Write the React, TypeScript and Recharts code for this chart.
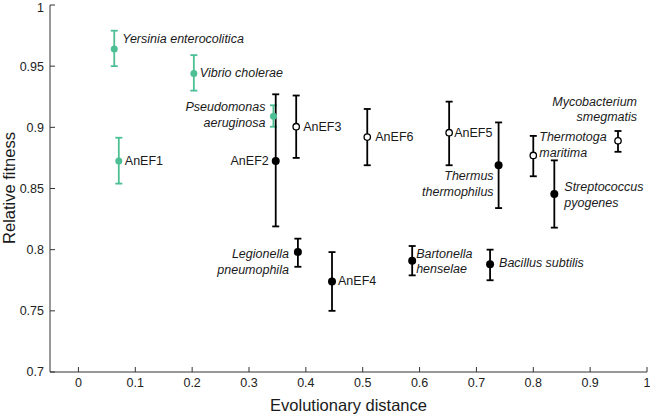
import React from 'react';
import { ScatterChart, Scatter, XAxis, YAxis, ErrorBar } from 'recharts';

// names as drawn, lines split by '\n'
const names = [
  'Yersinia enterocolitica', 'Vibrio cholerae', 'Pseudomonas\naeruginosa', 'AnEF1',
  'AnEF2', 'AnEF3', 'AnEF6', 'AnEF5', 'Thermus\nthermophilus', 'Thermotoga\nmaritima',
  'Mycobacterium\nsmegmatis', 'Streptococcus\npyogenes', 'Legionella\npneumophila',
  'AnEF4', 'Bartonella\nhenselae', 'Bacillus subtilis',
];
const distance = [0.063, 0.203, 0.343, 0.071, 0.347, 0.383, 0.508, 0.652, 0.739, 0.800, 0.949, 0.837, 0.386, 0.446, 0.587, 0.724];
const fitness = [0.964, 0.944, 0.909, 0.8725, 0.8725, 0.9005, 0.892, 0.8956, 0.869, 0.877, 0.889, 0.8455, 0.798, 0.774, 0.791, 0.788];
const errLow = [0.950, 0.930, 0.9005, 0.854, 0.819, 0.875, 0.869, 0.869, 0.834, 0.860, 0.880, 0.818, 0.786, 0.750, 0.779, 0.775];
const errHigh = [0.979, 0.959, 0.918, 0.8915, 0.927, 0.926, 0.915, 0.921, 0.904, 0.893, 0.897, 0.873, 0.809, 0.798, 0.803, 0.800];
// 'g' = green filled, 'f' = black filled, 'o' = black open
const group = ['g', 'g', 'g', 'g', 'f', 'o', 'o', 'o', 'f', 'o', 'o', 'f', 'f', 'f', 'f', 'f'];

const xTicks = [0, 0.1, 0.2, 0.3, 0.4, 0.5, 0.6, 0.7, 0.8, 0.9, 1];
const yTicks = [0.7, 0.75, 0.8, 0.85, 0.9, 0.95, 1];

// label placement: [dx, dy of first line, anchor]
const labelPos: [number, number, 'start' | 'end'][] = [
  [8, -10, 'start'], [6, -1, 'start'], [-8, -9, 'end'], [6, 0, 'start'],
  [-7, 0, 'end'], [7, 0, 'start'], [8, 0, 'start'], [5, 0, 'start'],
  [-5, 11, 'end'], [6, -18, 'start'], [19, -39, 'end'], [10, -7, 'start'],
  [-9, 2, 'end'], [6, 0, 'start'], [4, -7, 'start'], [9, -1, 'start'],
];

const GREEN = '#4cbf95';
const FONT = 'Liberation Sans, Arial, sans-serif';

const rows = names.map((name, i) => ({
  name,
  x: distance[i],
  y: fitness[i],
  err: [fitness[i] - errLow[i], errHigh[i] - fitness[i]],
  idx: i,
}));

const green = rows.filter((r) => group[r.idx] === 'g');
const filled = rows.filter((r) => group[r.idx] === 'f');
const open = rows.filter((r) => group[r.idx] === 'o');

const makeShape = (kind: string) => (props: any) => {
  const { cx, cy, payload } = props;
  const [dx, dy, anchor] = labelPos[payload.idx];
  const lines = String(payload.name).split('\n');
  const italic = !payload.name.startsWith('AnEF');
  return (
    <g>
      {kind === 'o' ? (
        <circle cx={cx} cy={cy} r={3.2} fill="#fff" stroke="#000" strokeWidth={1.3} />
      ) : (
        <circle cx={cx} cy={cy} r={kind === 'g' ? 3.5 : 4} fill={kind === 'g' ? GREEN : '#000'} />
      )}
      <text
        x={cx + dx}
        y={cy + dy}
        textAnchor={anchor}
        dominantBaseline="central"
        fontSize={12.5}
        fontFamily={FONT}
        fontStyle={italic ? 'italic' : 'normal'}
        fill="#1a1a1a"
      >
        {lines.map((l, j) => (
          <tspan key={j} x={cx + dx} dy={j === 0 ? 0 : 15.5}>{l}</tspan>
        ))}
      </text>
    </g>
  );
};

const tickStyle = { fontSize: 12.5, fill: '#222', fontFamily: FONT };
const fmt = (v: number) => String(v);

export default function App() {
  return (
    <div style={{ position: 'absolute', left: 0, top: 0, background: '#fff' }}>
      <ScatterChart width={650} height={415} margin={{ top: 5, right: 3, bottom: 0, left: 0 }}>
        <XAxis
          xAxisId="b"
          type="number"
          dataKey="x"
          domain={[-0.05, 1]}
          ticks={xTicks}
          tickFormatter={fmt}
          allowDataOverflow
          height={43}
          tick={tickStyle}
          tickSize={-5}
          tickMargin={11}
          axisLine={{ stroke: '#333' }}
          tickLine={{ stroke: '#333' }}
          label={{ value: 'Evolutionary distance', position: 'insideBottom', offset: 4, fontSize: 16.5, fill: '#1a1a1a', fontFamily: FONT }}
        />
        <XAxis
          xAxisId="t"
          orientation="top"
          type="number"
          dataKey="x"
          domain={[-0.05, 1]}
          ticks={xTicks}
          allowDataOverflow
          height={0}
          tick={false}
          tickSize={-5}
          axisLine={{ stroke: '#333' }}
          tickLine={{ stroke: '#333' }}
        />
        <YAxis
          yAxisId="l"
          type="number"
          dataKey="y"
          domain={[0.7, 1]}
          ticks={yTicks}
          tickFormatter={fmt}
          allowDataOverflow
          width={50}
          tick={tickStyle}
          tickSize={-5}
          tickMargin={11}
          axisLine={{ stroke: '#333' }}
          tickLine={{ stroke: '#333' }}
          label={{
            value: 'Relative fitness',
            content: () => (
              <text
                x={9}
                y={188}
                transform="rotate(-90, 9, 188)"
                textAnchor="middle"
                dominantBaseline="central"
                fontSize={16.5}
                fill="#1a1a1a"
                fontFamily={FONT}
              >
                Relative fitness
              </text>
            ),
          }}
        />
        <YAxis
          yAxisId="r"
          orientation="right"
          type="number"
          dataKey="y"
          domain={[0.7, 1]}
          ticks={yTicks}
          allowDataOverflow
          width={0}
          tick={false}
          tickSize={-5}
          axisLine={{ stroke: '#333' }}
          tickLine={{ stroke: '#333' }}
        />
        <Scatter data={green} xAxisId="b" yAxisId="l" fill={GREEN} shape={makeShape('g')} isAnimationActive={false}>
          <ErrorBar dataKey="err" direction="y" width={3.5} stroke={GREEN} strokeWidth={1.8} isAnimationActive={false} />
        </Scatter>
        <Scatter data={filled} xAxisId="b" yAxisId="l" fill="#000" shape={makeShape('f')} isAnimationActive={false}>
          <ErrorBar dataKey="err" direction="y" width={3.5} stroke="#000" strokeWidth={1.8} isAnimationActive={false} />
        </Scatter>
        <Scatter data={open} xAxisId="b" yAxisId="l" fill="#000" shape={makeShape('o')} isAnimationActive={false}>
          <ErrorBar dataKey="err" direction="y" width={3.5} stroke="#000" strokeWidth={1.8} isAnimationActive={false} />
        </Scatter>
      </ScatterChart>
    </div>
  );
}
